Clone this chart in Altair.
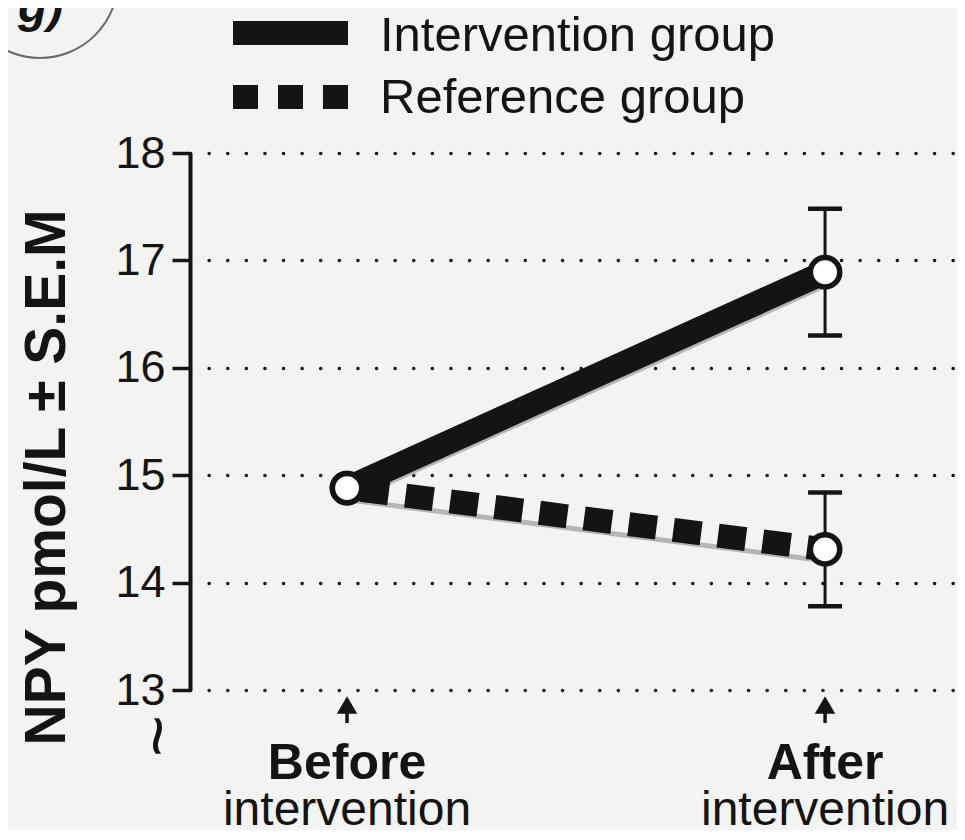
import altair as alt
import pandas as pd

# ---- data ----
times = ["Before", "After"]
time_pos = [0, 1]
time_bold = ["Before", "After"]
time_sub = ["intervention", "intervention"]
groups = ["Intervention group", "Reference group"]
intervention_mean = [14.88, 16.89]
intervention_sem = [0.0, 0.59]
reference_mean = [14.88, 14.31]
reference_sem = [0.0, 0.53]
y_ticks = [13, 14, 15, 16, 17, 18]

FONT = "Liberation Sans"
INK = "#141414"

rows = []
for t, p, m, s in zip(times, time_pos, intervention_mean, intervention_sem):
    rows.append({"time": t, "pos": p, "group": groups[0], "mean": m, "sem": s})
for t, p, m, s in zip(times, time_pos, reference_mean, reference_sem):
    rows.append({"time": t, "pos": p, "group": groups[1], "mean": m, "sem": s})
df = pd.DataFrame(rows)
df["lo"] = df["mean"] - df["sem"]
df["hi"] = df["mean"] + df["sem"]
err = df[df["sem"] > 0]
caps = pd.concat([err[["pos", "group", "lo"]].rename(columns={"lo": "v"}),
                  err[["pos", "group", "hi"]].rename(columns={"hi": "v"})])

xscale = alt.Scale(domain=[-0.3285, 1.276], nice=False, zero=False)
yscale = alt.Scale(domain=[13, 18], nice=False, zero=False)
X = alt.X("pos:Q", scale=xscale, axis=None)

y_axis = alt.Axis(values=y_ticks, title="NPY pmol/L ± S.E.M", grid=True,
                  gridDash=[0.1, 18.5], gridCap="round", gridWidth=3.5, gridColor=INK,
                  domainColor=INK, domainWidth=4, tickColor=INK, tickWidth=3.5, tickSize=18,
                  labelFont=FONT, labelFontSize=45, labelColor=INK, labelPadding=7,
                  titleFont=FONT, titleFontSize=57, titleFontWeight="bold", titleColor=INK,
                  titleAngle=270, titleAlign="center", titleBaseline="alphabetic",
                  titleX=-126, titleY=324)


def Y(field):
    return alt.Y(field, scale=yscale, axis=y_axis)


inter = df[df["group"] == groups[0]]
refer = df[df["group"] == groups[1]]

shadow_i = alt.Chart(inter).mark_line(color="#b5b5b5", strokeWidth=5, yOffset=12, xOffset=3).encode(
    x=X, y=Y("mean:Q"))
shadow_r = alt.Chart(refer).mark_line(color="#b5b5b5", strokeWidth=5, yOffset=12, xOffset=3).encode(
    x=X, y=Y("mean:Q"))
line_i = alt.Chart(inter).mark_line(color=INK, strokeWidth=24, strokeCap="butt").encode(
    x=X, y=Y("mean:Q"))
line_r = alt.Chart(refer).mark_line(color=INK, strokeWidth=24, strokeDash=[28, 17],
                                     strokeDashOffset=-14, strokeCap="butt").encode(
    x=X, y=Y("mean:Q"))

bars = alt.Chart(err).mark_rule(color=INK, strokeWidth=3).encode(
    x=X, y=Y("lo:Q"), y2="hi:Q")
capm = alt.Chart(caps).mark_rule(color=INK, strokeWidth=4.5, xOffset=-17, x2Offset=17).encode(
    x=X, x2="pos:Q", y=Y("v:Q"))

pts = alt.Chart(df).mark_point(shape="circle", filled=True, fill="white", stroke=INK,
                               strokeWidth=5.5, size=860, opacity=1).encode(
    x=X, y=Y("mean:Q"))

# category labels below the axis
lab = pd.DataFrame({"pos": time_pos, "bold": time_bold, "sub": time_sub})
lab_bold = alt.Chart(lab).mark_text(font=FONT, fontSize=50, fontWeight="bold", color=INK,
                                    baseline="alphabetic", align="center").encode(
    x=X, y=alt.value(626), text="bold:N")
lab_sub = alt.Chart(lab).mark_text(font=FONT, fontSize=48, color=INK,
                                   baseline="alphabetic", align="center").encode(
    x=X, y=alt.value(672), text="sub:N")
arrow_stem = alt.Chart(lab).mark_rule(color=INK, strokeWidth=3.5).encode(
    x=X, y=alt.value(555), y2=alt.value(570))
arrow_head = alt.Chart(lab).mark_point(shape="triangle-up", filled=True, color=INK,
                                       size=420, opacity=1).encode(
    x=X, y=alt.value(552))

one = pd.DataFrame({"k": [0]})
squiggle = alt.Chart(one).mark_text(text="~", font=FONT, fontSize=72, angle=90, color=INK).encode(
    x=alt.value(-35), y=alt.value(583))

# legend drawn by hand
leg_solid = alt.Chart(one).mark_rule(color=INK, strokeWidth=24, strokeCap="butt").encode(
    x=alt.value(43), x2=alt.value(158), y=alt.value(-120))
leg_dash = alt.Chart(one).mark_rule(color=INK, strokeWidth=24, strokeCap="butt",
                                    strokeDash=[25, 20]).encode(
    x=alt.value(43), x2=alt.value(158), y=alt.value(-56))
leg_text1 = alt.Chart(one).mark_text(text=groups[0], font=FONT, fontSize=49, color=INK,
                                     align="left", baseline="middle").encode(
    x=alt.value(190), y=alt.value(-117))
leg_text2 = alt.Chart(one).mark_text(text=groups[1], font=FONT, fontSize=49, color=INK,
                                     align="left", baseline="middle").encode(
    x=alt.value(190), y=alt.value(-55))

# panel letter with its hand-drawn ring
panel_letter = alt.Chart(one).mark_text(text="g)", font=FONT, fontSize=48, fontWeight="bold",
                                        fontStyle="italic", color=INK, align="left",
                                        baseline="alphabetic").encode(
    x=alt.value(-172), y=alt.value(-131))
ring = alt.Chart(one).mark_point(shape="circle", filled=False, stroke="#6a6a6a", strokeWidth=2,
                                 size=24336, opacity=1).encode(
    x=alt.value(-150), y=alt.value(-173))

chart = alt.layer(
    shadow_i, shadow_r, line_i, line_r, bars, capm, pts,
    lab_bold, lab_sub, arrow_stem, arrow_head, squiggle,
    leg_solid, leg_dash, leg_text1, leg_text2, panel_letter, ring
).properties(
    width=767, height=537,
    autosize=alt.AutoSizeParams(type="none"),
    padding={"left": 182, "top": 145, "right": 0, "bottom": 140},
    background="#f3f3f1"
).configure_view(stroke=None).resolve_scale(y="shared")

chart.save("out.html", embed_options={"renderer": "svg", "actions": False})
